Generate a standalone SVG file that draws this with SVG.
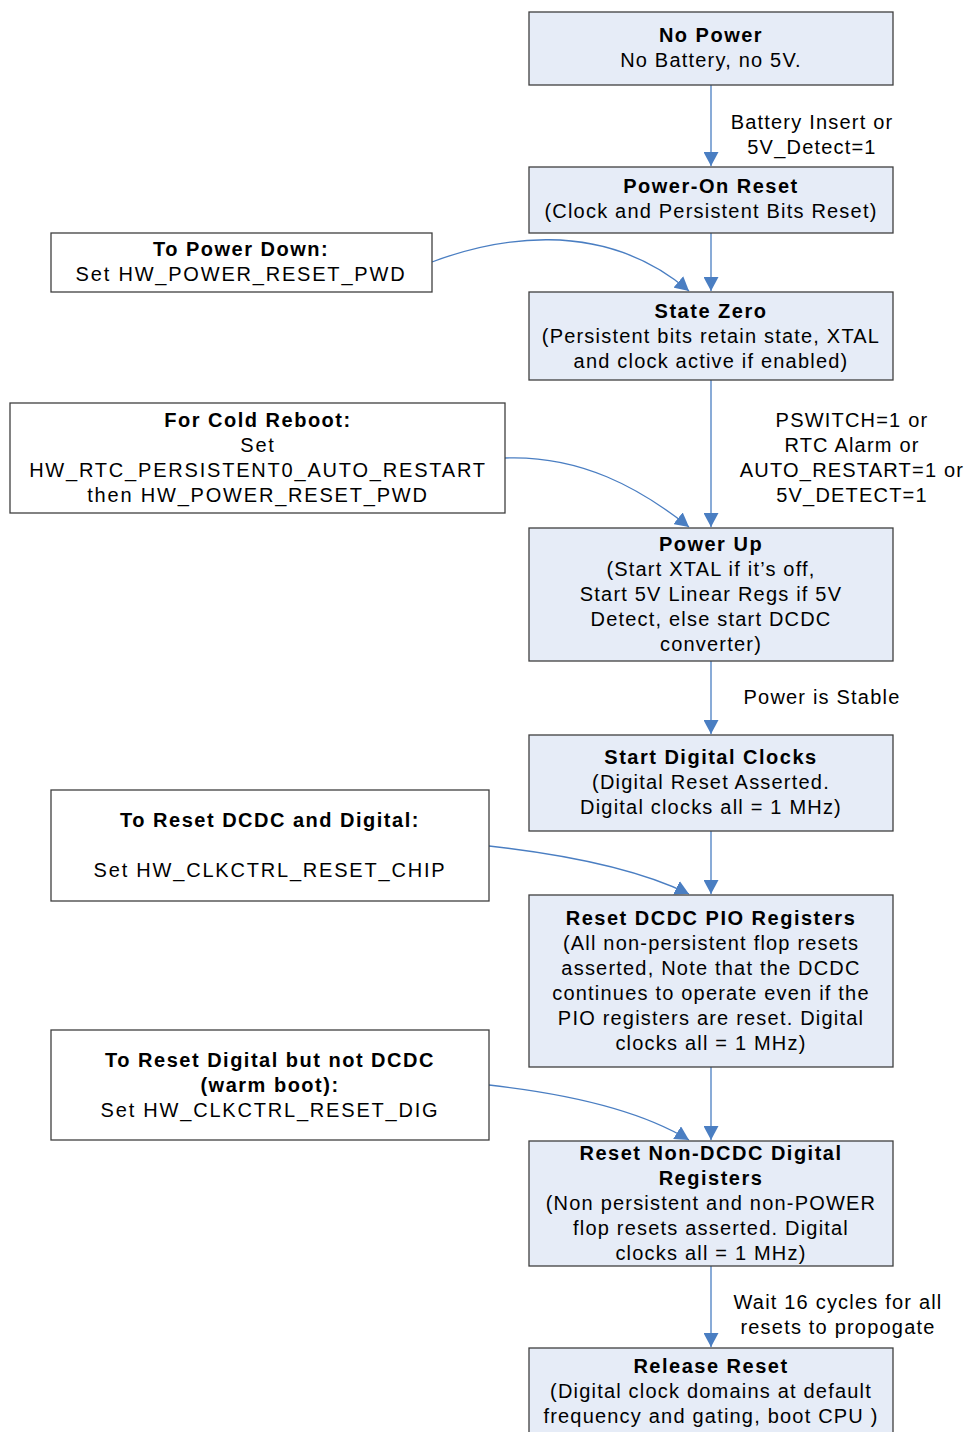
<svg xmlns="http://www.w3.org/2000/svg" width="973" height="1432" viewBox="0 0 973 1432">
<style>
text{font-family:"Liberation Sans",Arial,sans-serif;font-size:20px;fill:#000;text-anchor:middle;letter-spacing:1.2px}
.b{font-weight:bold;letter-spacing:1.5px}
.l{letter-spacing:1.8px}
.state{fill:#E6ECF7;stroke:#3F3F3F;stroke-width:1.3}
.act{fill:#FFFFFF;stroke:#3F3F3F;stroke-width:1.3}
.c{fill:none;stroke:#4A7EC2;stroke-width:1.3}
</style>
<defs>
<marker id="ah" markerUnits="userSpaceOnUse" markerWidth="14" markerHeight="15" refX="14" refY="7.5" orient="auto">
<path d="M0,0 L14,7.5 L0,15 z" fill="#4A7EC2"/>
</marker>
</defs>

<g id="connectors">
<path class="c" d="M711,85 V166" marker-end="url(#ah)"/>
<path class="c" d="M711,233 V291" marker-end="url(#ah)"/>
<path class="c" d="M711,380 V527" marker-end="url(#ah)"/>
<path class="c" d="M711,661 V734" marker-end="url(#ah)"/>
<path class="c" d="M711,831 V894" marker-end="url(#ah)"/>
<path class="c" d="M711,1067 V1140" marker-end="url(#ah)"/>
<path class="c" d="M711,1266 V1347" marker-end="url(#ah)"/>
<path class="c" d="M432,262 C490,240 600,215 689,291" marker-end="url(#ah)"/>
<path class="c" d="M505,458 C580,455 640,488 689,527" marker-end="url(#ah)"/>
<path class="c" d="M489,846 C570,855 640,870 689,894" marker-end="url(#ah)"/>
<path class="c" d="M489,1085 C570,1094 640,1110 689,1140" marker-end="url(#ah)"/>
<text x="812" y="129">Battery Insert or</text>
<text x="812" y="154">5V_Detect=1</text>
<text x="852" y="427">PSWITCH=1 or</text>
<text x="852" y="452">RTC Alarm or</text>
<text x="852" y="477">AUTO_RESTART=1 or</text>
<text x="852" y="502">5V_DETECT=1</text>
<text x="822" y="704">Power is Stable</text>
<text x="838" y="1309">Wait 16 cycles for all</text>
<text x="838" y="1334">resets to propogate</text>
</g>

<g id="no-power">
<rect class="state" x="529" y="12" width="364" height="73"/>
<text class="b" x="711" y="42">No Power</text>
<text x="711" y="67">No Battery, no 5V.</text>
</g>

<g id="power-on-reset">
<rect class="state" x="529" y="167" width="364" height="66"/>
<text class="b" x="711" y="193">Power-On Reset</text>
<text x="711" y="218">(Clock and Persistent Bits Reset)</text>
</g>

<g id="state-zero">
<rect class="state" x="529" y="292" width="364" height="88"/>
<text class="b" x="711" y="318">State Zero</text>
<text x="711" y="343">(Persistent bits retain state, XTAL</text>
<text x="711" y="368">and clock active if enabled)</text>
</g>

<g id="power-up">
<rect class="state" x="529" y="528" width="364" height="133"/>
<text class="b" x="711" y="551">Power Up</text>
<text x="711" y="576">(Start XTAL if it’s off,</text>
<text x="711" y="601">Start 5V Linear Regs if 5V</text>
<text x="711" y="626">Detect, else start DCDC</text>
<text x="711" y="651">converter)</text>
</g>

<g id="start-digital-clocks">
<rect class="state" x="529" y="735" width="364" height="96"/>
<text class="b" x="711" y="764">Start Digital Clocks</text>
<text x="711" y="789">(Digital Reset Asserted.</text>
<text x="711" y="814">Digital clocks all = 1 MHz)</text>
</g>

<g id="reset-dcdc-pio">
<rect class="state" x="529" y="895" width="364" height="172"/>
<text class="b" x="711" y="925">Reset DCDC PIO Registers</text>
<text x="711" y="950">(All non-persistent flop resets</text>
<text x="711" y="975">asserted, Note that the DCDC</text>
<text x="711" y="1000">continues to operate even if the</text>
<text x="711" y="1025">PIO registers are reset. Digital</text>
<text x="711" y="1050">clocks all = 1 MHz)</text>
</g>

<g id="reset-non-dcdc">
<rect class="state" x="529" y="1141" width="364" height="125"/>
<text class="b" x="711" y="1160">Reset Non-DCDC Digital</text>
<text class="b" x="711" y="1185">Registers</text>
<text x="711" y="1210">(Non persistent and non-POWER</text>
<text x="711" y="1235">flop resets asserted. Digital</text>
<text x="711" y="1260">clocks all = 1 MHz)</text>
</g>

<g id="release-reset">
<rect class="state" x="529" y="1348" width="364" height="100"/>
<text class="b" x="711" y="1373">Release Reset</text>
<text x="711" y="1398">(Digital clock domains at default</text>
<text x="711" y="1423">frequency and gating, boot CPU )</text>
</g>

<g id="to-power-down">
<rect class="act" x="51" y="233" width="381" height="59"/>
<text class="b" x="241" y="256">To Power Down:</text>
<text class="l" x="241" y="281">Set HW_POWER_RESET_PWD</text>
</g>

<g id="cold-reboot">
<rect class="act" x="10" y="403" width="495" height="110"/>
<text class="b" x="258" y="427">For Cold Reboot:</text>
<text class="l" x="258" y="452">Set</text>
<text class="l" x="258" y="477">HW_RTC_PERSISTENT0_AUTO_RESTART</text>
<text class="l" x="258" y="502">then HW_POWER_RESET_PWD</text>
</g>

<g id="reset-dcdc-digital">
<rect class="act" x="51" y="790" width="438" height="111"/>
<text class="b" x="270" y="827">To Reset DCDC and Digital:</text>
<text class="l" x="270" y="877">Set HW_CLKCTRL_RESET_CHIP</text>
</g>

<g id="reset-digital">
<rect class="act" x="51" y="1030" width="438" height="110"/>
<text class="b" x="270" y="1067">To Reset Digital but not DCDC</text>
<text class="b" x="270" y="1092">(warm boot):</text>
<text class="l" x="270" y="1117">Set HW_CLKCTRL_RESET_DIG</text>
</g>
</svg>
